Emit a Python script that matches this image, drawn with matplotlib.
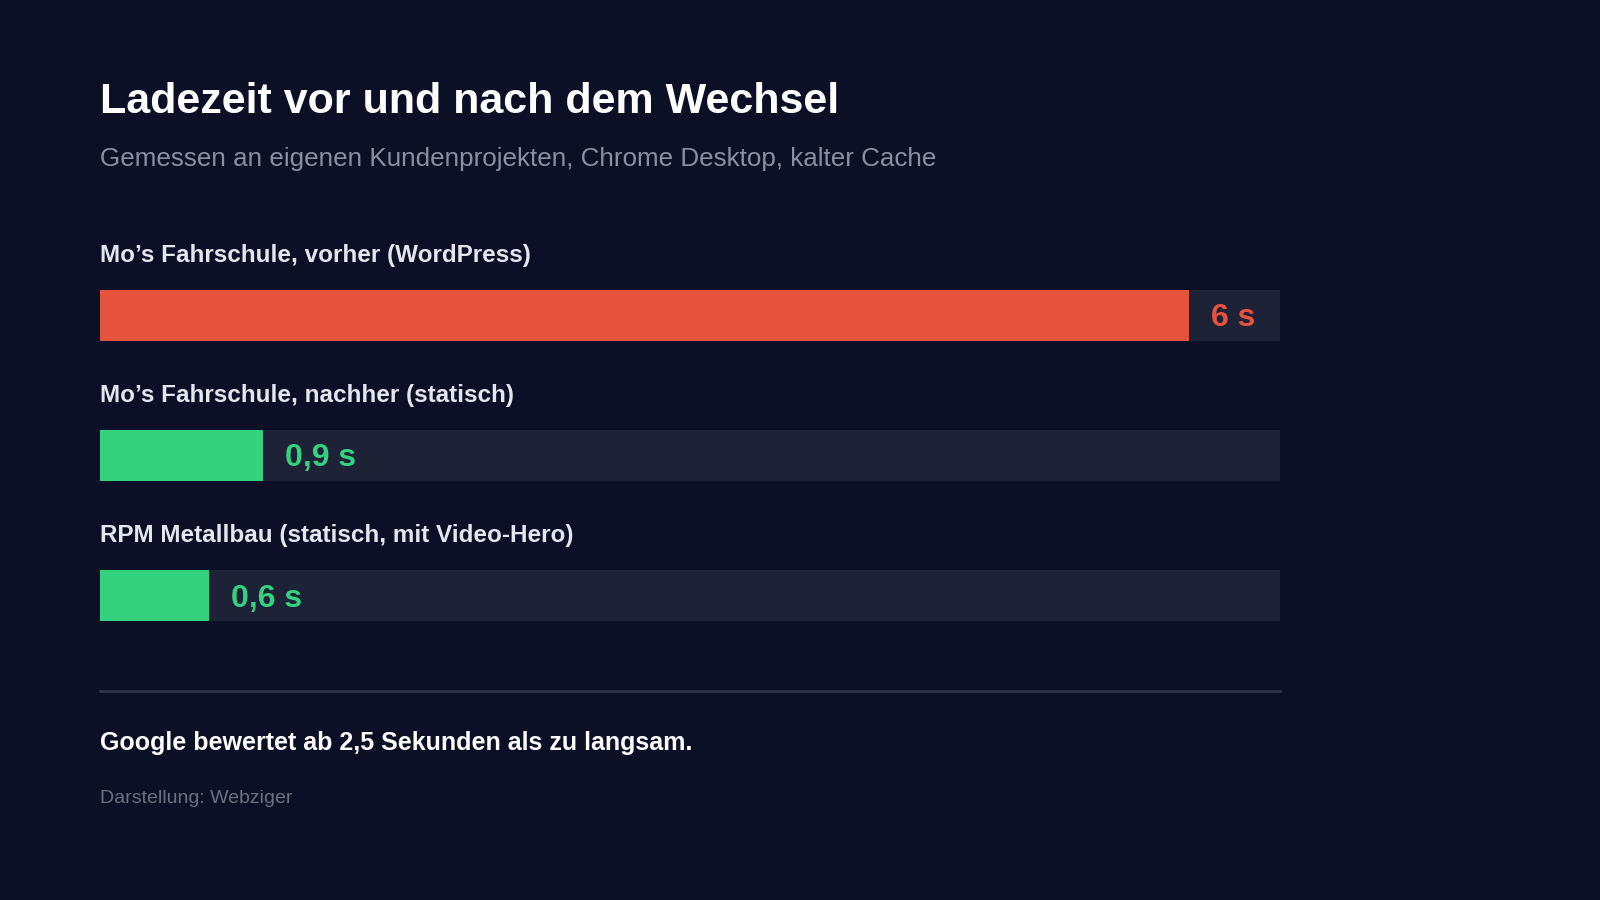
import matplotlib.pyplot as plt

labels = ['Mo’s Fahrschule, vorher (WordPress)',
          'Mo’s Fahrschule, nachher (statisch)',
          'RPM Metallbau (statisch, mit Video-Hero)']
values = [6.0, 0.9, 0.6]
value_text = ['6 s', '0,9 s', '0,6 s']
colors = ['#e5533d', '#34d27e', '#34d27e']
x_max = 6.5

bg = '#0b1026'
track = '#1d2236'
W, H = 1568, 882

def fx(px):
    return px / W

def fy(py):
    return 1 - py / H

plt.rcParams['font.family'] = ['Liberation Sans', 'DejaVu Sans']
fig = plt.figure(figsize=(16, 9), dpi=100, facecolor=bg)

fig.text(fx(98), fy(100), 'Ladezeit vor und nach dem Wechsel', color='white',
         fontsize=31, fontweight='bold', va='center')
fig.text(fx(98), fy(156), 'Gemessen an eigenen Kundenprojekten, Chrome Desktop, kalter Cache',
         color='#8a90a2', fontsize=18.7, va='center')

# bar axes covering the track region
ax = fig.add_axes([fx(98), fy(609), fx(1254) - fx(98), (609 - 284) / H])
ax.set_facecolor(bg)
ax.set_xlim(0, x_max)
ax.set_ylim(2.182, -0.182)
ax.axis('off')
ys = list(range(len(values)))
ax.barh(ys, [x_max] * len(values), height=0.364, color=track, left=0)
ax.barh(ys, values, height=0.364, color=colors)
for y, v, t, c, lab in zip(ys, values, value_text, colors, labels):
    ax.text(v + 0.12, y + 0.02, t, color=c, fontsize=23, fontweight='bold', va='center', ha='left')
    ax.text(0, y - 0.43, lab, color='#e4e6ee', fontsize=17.5, fontweight='bold', va='center', ha='left')

fig.add_artist(plt.Line2D([fx(98), fx(1254)], [fy(677), fy(677)], color='#2c3247', lw=2))
fig.text(fx(98), fy(728), 'Google bewertet ab 2,5 Sekunden als zu langsam.', color='white',
         fontsize=18, fontweight='bold', va='center')
fig.text(fx(98), fy(783), 'Darstellung: Webziger', color='#6b7080', fontsize=14, va='center')

fig.savefig('out.png', facecolor=bg)
